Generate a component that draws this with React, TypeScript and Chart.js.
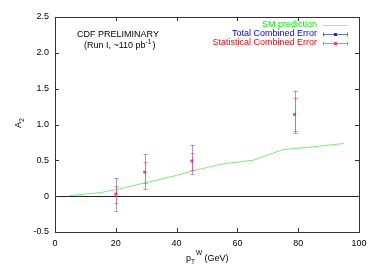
import React, { useEffect, useRef } from "react";
import { Chart, registerables } from "chart.js";

Chart.register(...registerables);

// SM prediction curve
const smX = [5, 15, 20, 30, 40, 45, 55, 65, 75, 85, 95];
const smY = [0.01, 0.05, 0.09, 0.19, 0.29, 0.35, 0.45, 0.5, 0.65, 0.69, 0.735];

// Measurements
const ptW = [20, 29.5, 45, 78.8];
const a2 = [0.03, 0.335, 0.49, 1.14];
const totLow = [-0.2, 0.1, 0.31, 0.88];
const totHigh = [0.25, 0.59, 0.71, 1.47];
const statLow = [-0.09, 0.19, 0.37, 0.91];
const statHigh = [0.145, 0.48, 0.6, 1.375];

const xTicks = [0, 20, 40, 60, 80, 100];
const yTicks = [-0.5, 0, 0.5, 1, 1.5, 2, 2.5];

const legendLabels = ["SM prediction", "Total Combined Error", "Statistical Combined Error"];
const titleLines = ["CDF PRELIMINARY", "(Run I, ~110 pb"];

const FONT = "'Liberation Sans', Arial, sans-serif";
const FS = 9;

const overlay = {
  id: "overlay",
  afterDatasetsDraw(chart: any) {
    const ctx = chart.ctx;
    const xs = chart.scales.x;
    const ys = chart.scales.y;
    const { left, right, top, bottom } = chart.chartArea;
    ctx.save();
    // zero line
    ctx.strokeStyle = "#222";
    ctx.lineWidth = 1;
    ctx.beginPath();
    ctx.moveTo(left, Math.round(ys.getPixelForValue(0)) + 0.5);
    ctx.lineTo(right, Math.round(ys.getPixelForValue(0)) + 0.5);
    ctx.stroke();

    // error bars
    const drawBar = (x: number, lo: number, hi: number, color: string, w: number) => {
      const px = Math.round(xs.getPixelForValue(x)) + 0.5;
      const py1 = ys.getPixelForValue(lo);
      const py2 = ys.getPixelForValue(hi);
      ctx.strokeStyle = color;
      ctx.lineWidth = 1;
      ctx.beginPath();
      ctx.moveTo(px, py1);
      ctx.lineTo(px, py2);
      ctx.moveTo(px - w, Math.round(py1) + 0.5);
      ctx.lineTo(px + w, Math.round(py1) + 0.5);
      ctx.moveTo(px - w, Math.round(py2) + 0.5);
      ctx.lineTo(px + w, Math.round(py2) + 0.5);
      ctx.stroke();
    };
    for (let i = 0; i < ptW.length; i++) {
      drawBar(ptW[i], totLow[i], totHigh[i], "rgba(110,110,255,0.7)", 2);
      drawBar(ptW[i], statLow[i], statHigh[i], "rgba(255,80,110,0.7)", 2);
      const px = xs.getPixelForValue(ptW[i]);
      const py = ys.getPixelForValue(a2[i]);
      ctx.fillStyle = "rgba(220,30,80,0.75)";
      ctx.fillRect(px - 1.5, py - 1.5, 3, 3);
    }

    // tick marks (inward, mirrored)
    ctx.strokeStyle = "#333";
    ctx.lineWidth = 1;
    ctx.beginPath();
    for (const t of xTicks) {
      const px = Math.round(xs.getPixelForValue(t)) + 0.5;
      ctx.moveTo(px, bottom);
      ctx.lineTo(px, bottom - 4);
      ctx.moveTo(px, top);
      ctx.lineTo(px, top + 4);
    }
    for (const t of yTicks) {
      const py = Math.round(ys.getPixelForValue(t)) + 0.5;
      ctx.moveTo(left, py);
      ctx.lineTo(left + 4, py);
      ctx.moveTo(right, py);
      ctx.lineTo(right - 4, py);
    }
    ctx.stroke();
    // border
    ctx.strokeStyle = "#333";
    ctx.strokeRect(Math.round(left) + 0.5, Math.round(top) + 0.5, Math.round(right - left), Math.round(bottom - top));

    // title text
    ctx.fillStyle = "#000";
    ctx.font = `${FS}px ${FONT}`;
    ctx.textAlign = "center";
    ctx.textBaseline = "middle";
    ctx.fillText(titleLines[0], 118, 35);
    ctx.textAlign = "left";
    const l2 = titleLines[1];
    const w2 = ctx.measureText(l2).width;
    const sx = 84;
    ctx.fillText(l2, sx, 46);
    ctx.font = `6.5px ${FONT}`;
    ctx.fillText("-1", sx + w2, 42);
    const wsup = ctx.measureText("-1").width;
    ctx.font = `${FS}px ${FONT}`;
    ctx.fillText(")", sx + w2 + wsup + 1, 46);

    // legend
    const rows = [25, 34, 43];
    const cols = ["#00ee00", "#0000ff", "#ff0000"];
    ctx.textAlign = "right";
    for (let i = 0; i < 3; i++) {
      ctx.fillStyle = cols[i];
      ctx.font = `${FS}px ${FONT}`;
      ctx.fillText(legendLabels[i], 317, rows[i]);
      const y = rows[i] + 0.5;
      ctx.strokeStyle = i === 0 ? "#99ee99" : i === 1 ? "rgba(70,70,255,0.8)" : "rgba(255,90,110,0.8)";
      ctx.beginPath();
      ctx.moveTo(323, y);
      ctx.lineTo(348, y);
      if (i > 0) {
        ctx.moveTo(323.5, y - 2);
        ctx.lineTo(323.5, y + 2);
        ctx.moveTo(347.5, y - 2);
        ctx.lineTo(347.5, y + 2);
      }
      ctx.stroke();
      if (i > 0) {
        ctx.fillStyle = i === 1 ? "#2020ff" : "#ff4070";
        ctx.fillRect(334, y - 1.5, 3, 3);
      }
    }

    // axis titles
    ctx.fillStyle = "#000";
    ctx.font = `${FS}px ${FONT}`;
    ctx.textAlign = "left";
    ctx.textBaseline = "alphabetic";
    const ax = 186;
    ctx.fillText("p", ax, 261);
    const wp = ctx.measureText("p").width;
    ctx.font = `6.5px ${FONT}`;
    ctx.fillText("T", ax + wp, 264);
    const wt = ctx.measureText("T").width;
    ctx.fillText("W", ax + wp + wt + 1, 255);
    const ww = ctx.measureText("W").width;
    ctx.font = `${FS}px ${FONT}`;
    ctx.fillText(" (GeV)", ax + wp + wt + ww + 1, 261);

    ctx.save();
    ctx.translate(21, 125);
    ctx.rotate(-Math.PI / 2);
    ctx.textAlign = "center";
    ctx.font = `${FS}px ${FONT}`;
    ctx.fillText("A", 0, 0);
    ctx.font = `6.5px ${FONT}`;
    ctx.fillText("2", 5, 3);
    ctx.restore();

    ctx.restore();
  },
};

export default function App() {
  const ref = useRef<HTMLCanvasElement>(null);
  useEffect(() => {
    document.body.style.margin = "0";
    const chart = new Chart(ref.current!, {
      type: "scatter",
      data: {
        datasets: [
          {
            data: smX.map((x, i) => ({ x, y: smY[i] })),
            showLine: true,
            borderColor: "#77ee77",
            borderWidth: 1,
            pointRadius: 0,
            fill: false,
          },
        ],
      },
      options: {
        animation: false,
        responsive: false,
        devicePixelRatio: 1,
        layout: { padding: { top: 17, right: 23, left: 0, bottom: 0 } },
        plugins: { legend: { display: false }, tooltip: { enabled: false } },
        scales: {
          x: {
            type: "linear",
            min: 0,
            max: 100,
            afterBuildTicks: (s: any) => {
              s.ticks = xTicks.map((v) => ({ value: v }));
            },
            afterFit: (s: any) => {
              s.height = 41;
            },
            grid: { display: false, drawTicks: false },
            border: { display: false },
            ticks: { color: "#000", font: { family: FONT, size: FS }, padding: 6, maxRotation: 0 },
          },
          y: {
            type: "linear",
            min: -0.5,
            max: 2.5,
            afterBuildTicks: (s: any) => {
              s.ticks = yTicks.map((v) => ({ value: v }));
            },
            afterFit: (s: any) => {
              s.width = 55;
            },
            grid: { display: false, drawTicks: false },
            border: { display: false },
            ticks: { color: "#000", font: { family: FONT, size: FS }, padding: 6 },
          },
        },
      },
      plugins: [overlay],
    });
    return () => chart.destroy();
  }, []);
  return (
    <div style={{ position: "fixed", left: 0, top: 0, width: 382, height: 273 }}>
      <canvas ref={ref} width={382} height={273} style={{ width: 382, height: 273 }} />
    </div>
  );
}
